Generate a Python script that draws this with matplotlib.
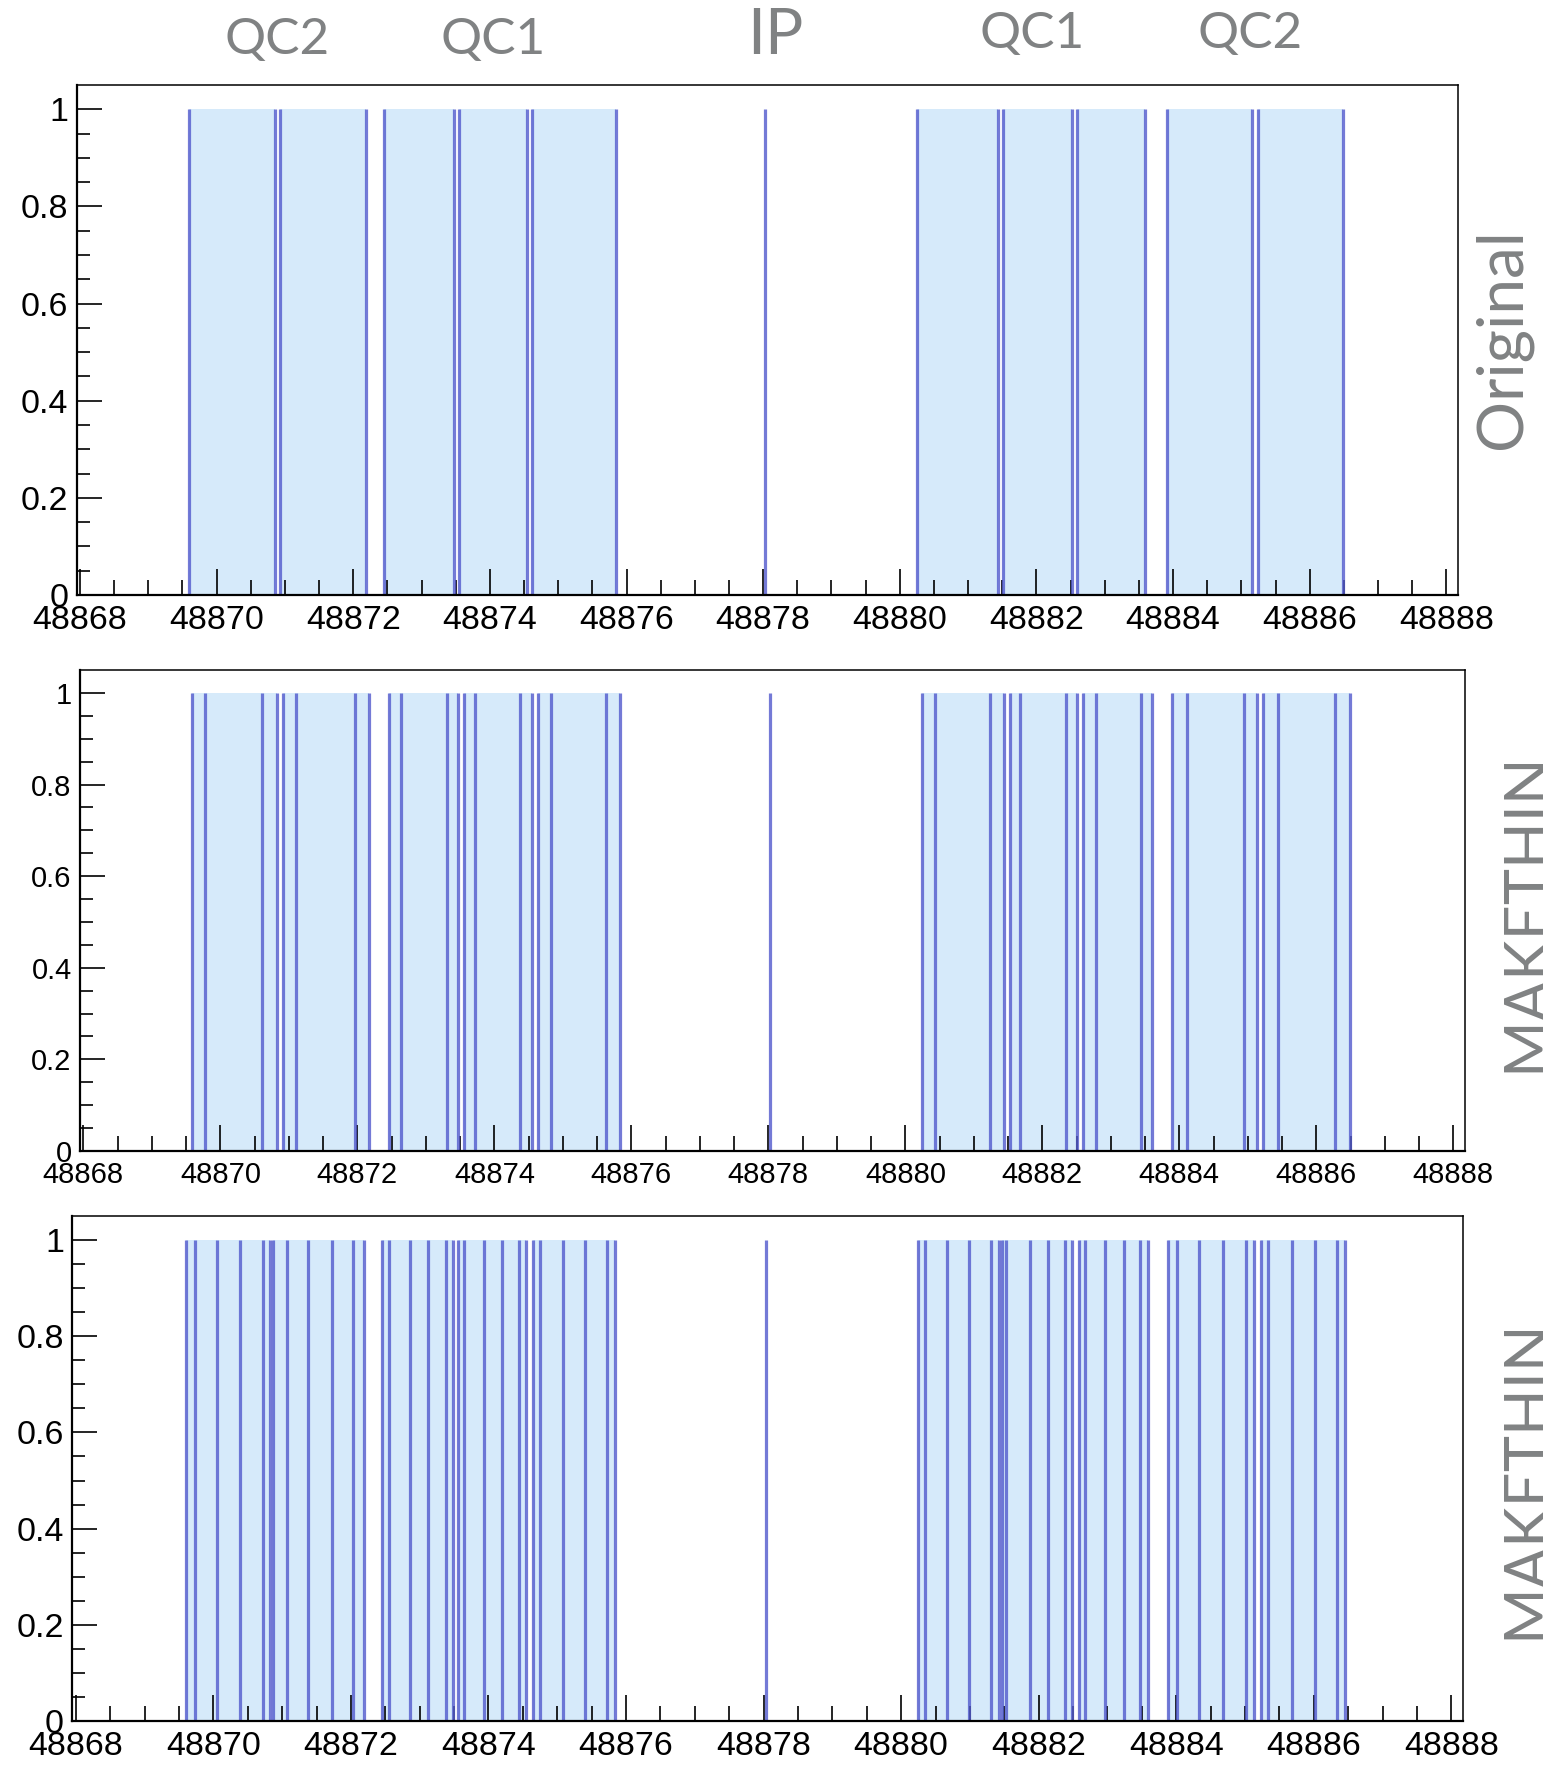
import numpy as np
import matplotlib
matplotlib.use("Agg")
import matplotlib.pyplot as plt
from matplotlib.ticker import FixedLocator, FuncFormatter

plt.rcParams['font.family'] = ['Liberation Sans', 'DejaVu Sans']

# ---- data: element edges along s (m) ----
ip_s = 48878.03

# Original lattice: thick elements (start/end)
orig_lo = [48869.60, 48870.93, 48872.455, 48873.55, 48874.62,
           48880.25, 48881.51, 48882.60, 48883.91, 48885.24]
orig_hi = [48870.855, 48872.18, 48873.47, 48874.54, 48875.84,
           48881.44, 48882.52, 48883.59, 48885.16, 48886.48]

# MAKETHIN, coarse slicing
thin1_lines = [48869.58, 48869.78, 48870.61, 48870.83, 48870.91, 48871.11,
               48871.96, 48872.17, 48872.46, 48872.64, 48873.31, 48873.47,
               48873.55, 48873.71, 48874.38, 48874.55, 48874.63, 48874.82,
               48875.63, 48875.83,
               48880.24, 48880.43, 48881.24, 48881.44, 48881.53, 48881.68,
               48882.35, 48882.51, 48882.59, 48882.78, 48883.44, 48883.60,
               48883.89, 48884.11, 48884.94, 48885.14, 48885.22, 48885.44,
               48886.27, 48886.49]
thin1_lo = [48869.58, 48870.91, 48872.46, 48873.55, 48874.63,
            48880.24, 48881.53, 48882.59, 48883.89, 48885.22]
thin1_hi = [48870.83, 48872.17, 48873.47, 48874.55, 48875.83,
            48881.44, 48882.51, 48883.60, 48885.14, 48886.49]

# MAKETHIN, fine slicing
thin2_lines = [48869.60, 48869.73, 48870.05, 48870.39, 48870.72, 48870.83,
               48870.86, 48871.07, 48871.37, 48871.73, 48872.03, 48872.19,
               48872.45, 48872.56, 48872.86, 48873.12, 48873.38, 48873.48,
               48873.56, 48873.64, 48873.93, 48874.19, 48874.45, 48874.55,
               48874.65, 48874.75, 48875.08, 48875.40, 48875.72, 48875.84,
               48880.24, 48880.34, 48880.67, 48880.99, 48881.30, 48881.42,
               48881.46, 48881.52, 48881.88, 48882.13, 48882.39, 48882.49,
               48882.59, 48882.68, 48882.96, 48883.24, 48883.48, 48883.59,
               48883.88, 48884.01, 48884.33, 48884.68, 48885.01, 48885.13,
               48885.23, 48885.34, 48885.68, 48886.02, 48886.34, 48886.45]
thin2_lo = [48869.60, 48870.86, 48872.45, 48873.56, 48874.65,
            48880.24, 48881.46, 48882.59, 48883.88, 48885.23]
thin2_hi = [48870.83, 48872.19, 48873.48, 48874.55, 48875.84,
            48881.42, 48882.49, 48883.59, 48885.13, 48886.45]

magnet_names = ['QC2', 'QC1', 'IP', 'QC1', 'QC2']
magnet_s = [48870.89, 48874.05, 48878.18, 48881.94, 48885.13]

row_names = ['Original', 'MAKETHIN', 'MAKETHIN']

x_major = list(range(48868, 48889, 2))
y_major = [0, 0.2, 0.4, 0.6, 0.8, 1]

# ---- styling ----
fill_col = '#d6eafa'
line_col = '#5159cc'
gray = '#808283'

W, H = 1543, 1766
fig = plt.figure(figsize=(W / 100, H / 100), dpi=100)
fig.patch.set_facecolor('white')

# (left, right, top, bottom) in pixels
boxes = [(76.5, 1458, 85, 595), (80, 1465, 670, 1151), (72.4, 1463, 1216, 1721)]
label_sizes = [24.5, 21, 24.5]

panels = [
    (orig_lo, orig_hi, orig_lo + orig_hi + [ip_s]),
    (thin1_lo, thin1_hi, thin1_lines + [ip_s]),
    (thin2_lo, thin2_hi, thin2_lines + [ip_s]),
]

axes = []
for (l, r, t, b), fs, (lo, hi, lines) in zip(boxes, label_sizes, panels):
    ax = fig.add_axes([l / W, 1 - b / H, (r - l) / W, (b - t) / H])
    lo = np.array(lo)
    hi = np.array(hi)
    ax.bar(lo, np.ones_like(lo), width=hi - lo, align='edge',
           color=fill_col, linewidth=0, zorder=1)
    ax.vlines(lines, 0, 1, colors=line_col, linewidth=2.3, alpha=0.8, zorder=2)

    ax.set_xlim(48867.95, 48888.17)
    ax.set_ylim(0, 1.05)

    ax.xaxis.set_major_locator(FixedLocator(x_major))
    ax.xaxis.set_minor_locator(FixedLocator(np.arange(48868, 48888.01, 0.5)))
    ax.xaxis.set_major_formatter(FuncFormatter(lambda v, p: '%d' % round(v)))
    ax.yaxis.set_major_locator(FixedLocator(y_major))
    ax.yaxis.set_minor_locator(FixedLocator(np.arange(0, 1.001, 0.05)))
    ax.yaxis.set_major_formatter(FuncFormatter(lambda v, p: '%g' % round(v, 2)))

    ax.tick_params(axis='x', which='major', direction='in', length=19, width=1.2,
                   labelsize=fs, pad=7, top=False)
    ax.tick_params(axis='x', which='minor', direction='in', length=10.5, width=1.2, top=False)
    ax.tick_params(axis='y', which='major', direction='in', length=18, width=1.2,
                   labelsize=fs, pad=6, right=False)
    ax.tick_params(axis='y', which='minor', direction='in', length=9, width=1.2, right=False)

    for side in ['left', 'bottom']:
        ax.spines[side].set_linewidth(1.6)
    for side in ['top', 'right']:
        ax.spines[side].set_linewidth(1.1)
    axes.append(ax)

# magnet names above the first panel (x in data coords, y in figure coords)
ax1 = axes[0]
trans = matplotlib.transforms.blended_transform_factory(ax1.transData, fig.transFigure)
for name, s in zip(magnet_names, magnet_s):
    big = name == 'IP'
    y = 1 - (36 if big else (40 if s < ip_s else 34)) / H
    fig.text(s, y, name, transform=trans, ha='center', va='center',
             fontsize=46 if big else 37, color=gray, family=['Lato', 'DejaVu Sans'])

# row names on the right
row_pos = [(1503, 339, 46), (1527, 912, 44), (1527, 1479, 44)]
for name, (px, py, fs) in zip(row_names, row_pos):
    fig.text(px / W, 1 - py / H, name, rotation=90, ha='center', va='center',
             fontsize=fs, color=gray, family=['Lato', 'DejaVu Sans'])

fig.savefig('out.png', dpi=100)
